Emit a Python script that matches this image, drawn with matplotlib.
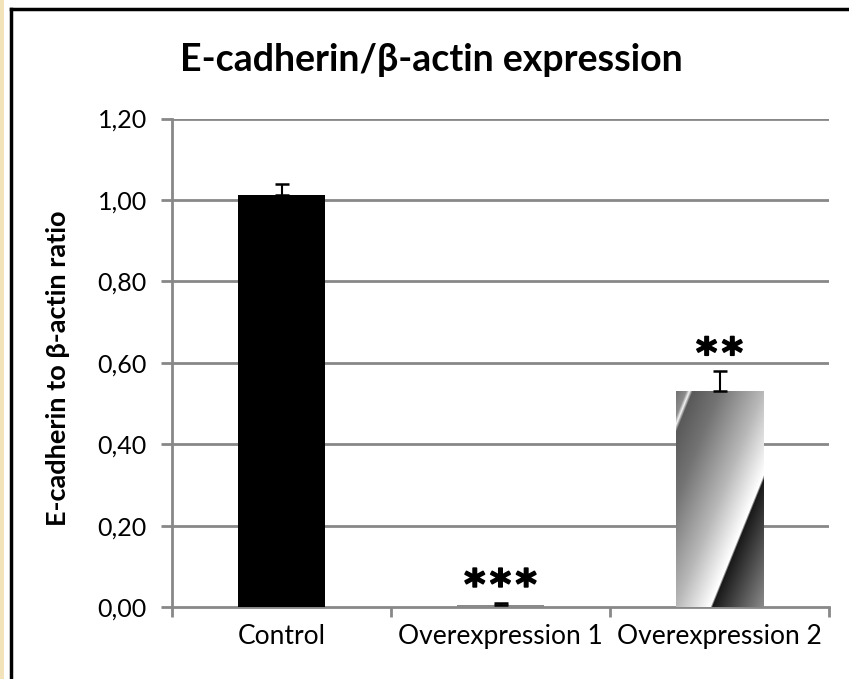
import numpy as np
import matplotlib
matplotlib.use('Agg')
import matplotlib.pyplot as plt
import matplotlib.patheffects as pe
from matplotlib.patches import Rectangle
from matplotlib.lines import Line2D

# chart data
groups = ['Control', 'Overexpression 1', 'Overexpression 2']
ratios = [1.013, 0.005, 0.530]
errors = [0.025, 0.005, 0.049]
stars = ['', '***', '**']
yticks = [0.0, 0.2, 0.4, 0.6, 0.8, 1.0, 1.2]
ytick_labels = ['0,00', '0,20', '0,40', '0,60', '0,80', '1,00', '1,20']

W, H = 849, 679
plt.rcParams['font.family'] = ['Lato', 'DejaVu Sans']

fig = plt.figure(figsize=(W / 100, H / 100), dpi=100)
fig.patch.set_facecolor('white')

# slide decoration: beige strip and black frame
fig.patches.append(Rectangle((0, 0), 4 / W, 1, transform=fig.transFigure,
                             facecolor='#f3e3bb', edgecolor='none'))
fig.lines.append(Line2D([11 / W, 11 / W], [0, 1 - 9 / H], transform=fig.transFigure,
                        color='black', lw=2.5))
fig.lines.append(Line2D([11 / W, 1], [1 - 9 / H, 1 - 9 / H], transform=fig.transFigure,
                        color='black', lw=2.5))

ax = fig.add_axes([172 / W, 1 - 607 / H, (829 - 172) / W, (607 - 118.5) / H])
grid_col = '#888888'
x = np.arange(len(groups))
bars = ax.bar(x, ratios, width=0.4, color=['black', '#8a8a8a', 'none'], zorder=3)
ax.errorbar(x, ratios, yerr=[[0] * 3, errors], fmt='none', ecolor='black',
            elinewidth=1.5, capsize=5, capthick=1.8, zorder=4)

ax.set_xlim(-0.5, 2.5)
ax.set_ylim(0, 1.2)
ax.set_yticks(yticks)
ax.set_yticklabels(ytick_labels)
ax.set_xticks(x)
ax.set_xticklabels(groups)
ax.set_xticks([-0.5, 0.5, 1.5, 2.5], minor=True)
ax.tick_params(axis='x', which='major', length=0, pad=12, labelsize=19)
ax.tick_params(axis='x', which='minor', length=7, width=2, color=grid_col)
ax.tick_params(axis='y', length=8, width=2, color=grid_col, labelsize=18, pad=10)
for s in ['top', 'right']:
    ax.spines[s].set_visible(False)
for s in ['left', 'bottom']:
    ax.spines[s].set_color(grid_col)
    ax.spines[s].set_linewidth(2)
for v in yticks[1:]:
    ax.axhline(v, color=grid_col, lw=2, zorder=1)

# diagonal metallic gradient on the third bar
fig.canvas.draw()
b = bars[2]
(x0, y0), (x1, y1) = ax.transData.transform([(b.get_x(), 0), (b.get_x() + b.get_width(), b.get_height())])
pw, ph = int(round(x1 - x0)), int(round(y1 - y0))
px, py = np.meshgrid(np.arange(pw), np.arange(ph))
u = 0.927 * px + 0.374 * py
stops_u = [0, 9, 12, 15, 40, 80, 112, 114, 170]
stops_v = [0.45, 0.55, 0.95, 0.35, 0.45, 0.72, 1.0, 0.1, 0.62]
shade = np.interp(u, stops_u, stops_v)
ax.imshow(shade, cmap='gray', vmin=0, vmax=1, aspect='auto', interpolation='bilinear',
          extent=[b.get_x(), b.get_x() + b.get_width(), 0, b.get_height()], zorder=3)
ax.set_xlim(-0.5, 2.5)
ax.set_ylim(0, 1.2)

for i, s in enumerate(stars):
    n = len(s)
    for k in range(n):
        dx = (k - (n - 1) / 2) * 18.5
        ax.annotate('*', (x[i], ratios[i] + errors[i]), xytext=(dx, 3.5), textcoords='offset points',
                    ha='center', va='baseline', fontsize=29, fontweight='bold',
                    family=['DejaVu Sans'], zorder=5,
                    path_effects=[pe.withStroke(linewidth=1.2, foreground='black')])

fig.text(58 / W, 1 - 368 / H, 'E-cadherin to β-actin ratio', rotation=90, ha='center', va='center',
         fontsize=19.5, fontweight='bold')
fig.text(431 / W, 1 - 60 / H, 'E-cadherin/β-actin expression', ha='center', va='center',
         fontsize=27, fontweight='bold')

fig.savefig('out.png', dpi=100)
